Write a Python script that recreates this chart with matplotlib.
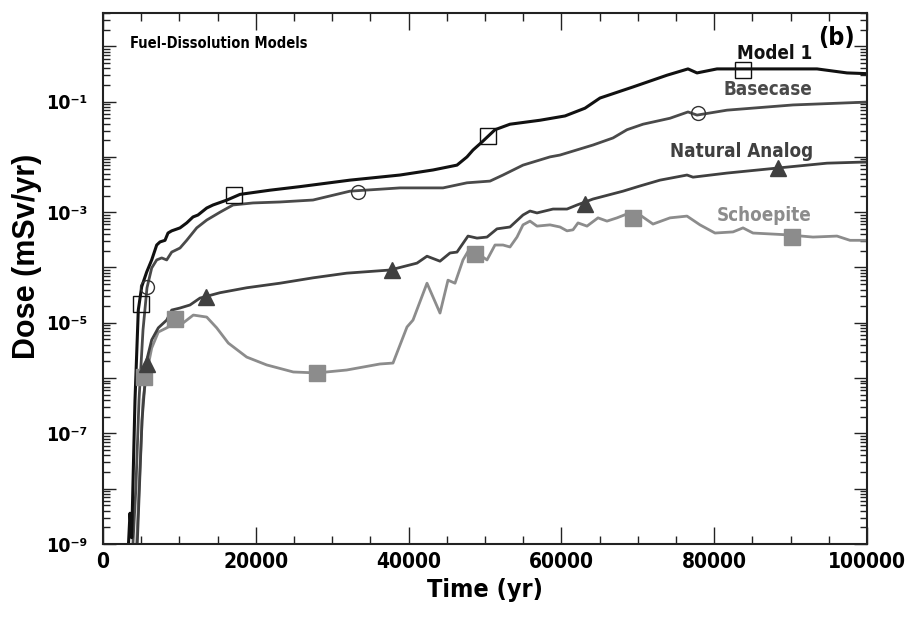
import numpy as np
import matplotlib
matplotlib.use('Agg')
import matplotlib.pyplot as plt
from matplotlib import font_manager
from matplotlib.ticker import LogLocator, FuncFormatter, MultipleLocator, NullFormatter

# the text in the original is condensed - use DejaVu Sans condensed bold if it is installed,
# otherwise plain Liberation Sans at smaller sizes so the widths still match
cond = [f for f in font_manager.fontManager.ttflist
        if f.name == 'DejaVu Sans' and f.stretch == 'condensed' and f.weight in ('bold', 700)]
if cond:
    narrow = 'DejaVu Sans'
    stretch = 'condensed'
    k = 1.0
else:
    narrow = 'Liberation Sans'
    stretch = 'normal'
    k = 1.05
plt.rcParams['font.family'] = narrow
plt.rcParams['font.stretch'] = stretch
plt.rcParams['font.weight'] = 'bold'

# Model 1
m1_t = [3230, 3534, 3757, 3966, 4188, 4620, 5065, 5720, 6374, 7029, 7461, 8115, 8508, 8992, 10079,
        10955, 11780, 12435, 13573, 14398, 16230, 17932, 21859, 25785, 32330, 38874, 43194, 46335,
        47644, 48429, 49607, 51309, 53272, 57199, 60471, 63089, 65052, 69372, 73822, 76571, 77749,
        80367, 83770, 93455, 97382, 100000]
m1_d = [5e-10, 3.6e-9, 1.3e-9, 2.2e-8, 4e-7, 1.7e-5, 4.5e-5, 8.3e-5, 1.37e-4, 2.55e-4, 2.9e-4, 3.1e-4,
        4.2e-4, 4.6e-4, 5.2e-4, 6.4e-4, 8.2e-4, 8.9e-4, 1.19e-3, 1.35e-3, 1.66e-3, 2.1e-3, 2.5e-3,
        2.9e-3, 3.8e-3, 4.7e-3, 5.8e-3, 7.1e-3, 1e-2, 1.33e-2, 1.86e-2, 3.1e-2, 3.9e-2, 4.6e-2,
        5.5e-2, 7.6e-2, 0.116, 0.184, 0.30, 0.39, 0.33, 0.39, 0.39, 0.39, 0.33, 0.32]
m1_mt = [4974, 17147, 50393, 83770]
m1_md = [2.2e-5, 2.05e-3, 2.4e-2, 0.37]

# Basecase
bc_t = [3800, 4300, 4712, 5236, 5759, 6374, 7029, 7683, 8338, 8992, 10079, 10955, 12264, 13573, 15314,
        17016, 19634, 23168, 27487, 32330, 38874, 44503, 47644, 50654, 52356, 54974, 58508, 59817,
        64136, 66754, 68586, 70681, 74215, 76571, 77749, 81676, 90314, 100000]
bc_d = [5e-10, 1e-8, 4e-7, 7.4e-6, 4.3e-5, 9.8e-5, 1.37e-4, 1.49e-4, 1.37e-4, 1.9e-4, 2.25e-4, 3.1e-4,
        5.2e-4, 7.2e-4, 1e-3, 1.35e-3, 1.47e-3, 1.53e-3, 1.66e-3, 2.4e-3, 2.75e-3, 2.75e-3, 3.4e-3,
        3.65e-3, 4.7e-3, 7.1e-3, 1e-2, 1.08e-2, 1.64e-2, 2.2e-2, 3.1e-2, 3.9e-2, 5e-2, 6.5e-2, 5.7e-2,
        7e-2, 8.7e-2, 0.098]
bc_mt = [5759, 33377, 77880]
bc_md = [4.5e-5, 2.3e-3, 6.2e-2]

# Natural Analog
na_t = [4400, 5105, 5720, 6374, 7238, 8338, 8992, 10079, 11387, 12696, 15314, 18809, 23168, 27487,
        31898, 37565, 41099, 42408, 44110, 45419, 46335, 47775, 48953, 50262, 51571, 53272, 54974,
        55890, 56806, 58901, 60733, 62042, 64136, 68063, 70288, 72906, 76440, 77225, 81676, 88351,
        94765, 100000]
na_d = [5e-10, 1.7e-7, 2.1e-6, 4.9e-6, 8.1e-6, 1.12e-5, 1.7e-5, 1.85e-5, 2.1e-5, 2.8e-5, 3.5e-5,
        4.3e-5, 5.2e-5, 6.5e-5, 7.9e-5, 9e-5, 1.2e-4, 1.6e-4, 1.3e-4, 1.83e-4, 1.9e-4, 3.7e-4, 3.4e-4,
        3.55e-4, 5e-4, 5.4e-4, 8.9e-4, 1.05e-3, 9.7e-4, 1.14e-3, 1.14e-3, 1.35e-3, 1.73e-3, 2.4e-3,
        2.98e-3, 3.8e-3, 4.7e-3, 4.3e-3, 5.1e-3, 6.3e-3, 7.7e-3, 8.1e-3]
na_mt = [5759, 13482, 37827, 63089, 88351]
na_md = [1.8e-6, 2.9e-5, 9e-5, 1.41e-3, 6.3e-3]

# Schoepite
sc_t = [4300, 5236, 5720, 6374, 7238, 8338, 9424, 10511, 11820, 13573, 14882, 16401, 18809, 21427,
        24909, 27972, 31898, 36257, 37958, 39791, 40576, 42408, 44110, 45157, 46073, 47120, 48037,
        50262, 51309, 52356, 53272, 54188, 54974, 55890, 56806, 58508, 59817, 60733, 61518, 62173,
        63351, 64791, 65969, 67278, 68586, 70288, 71990, 74215, 76440, 78141, 80105, 82461, 83770,
        85079, 89529, 92932, 96073, 97775, 100000]
sc_d = [5e-10, 4e-7, 1.24e-6, 3.5e-6, 6.8e-6, 8.1e-6, 1e-5, 1e-5, 1.38e-5, 1.27e-5, 8.1e-6, 4.3e-6,
        2.4e-6, 1.73e-6, 1.29e-6, 1.24e-6, 1.4e-6, 1.8e-6, 1.87e-6, 8.4e-6, 1.12e-5, 5.2e-5, 1.5e-5,
        5.9e-5, 5.2e-5, 1.37e-4, 2.25e-4, 1.37e-4, 2.55e-4, 2.55e-4, 2.35e-4, 3.55e-4, 5.9e-4, 6.9e-4,
        5.6e-4, 5.9e-4, 5.4e-4, 4.6e-4, 4.8e-4, 6.4e-4, 5.6e-4, 7.9e-4, 6.9e-4, 7.9e-4, 9.3e-4,
        8.9e-4, 6.1e-4, 7.9e-4, 8.5e-4, 5.9e-4, 4.2e-4, 4.4e-4, 5.2e-4, 4.2e-4, 3.9e-4, 3.55e-4,
        3.7e-4, 3.1e-4, 3.1e-4]
sc_mt = [5366, 9424, 28010, 48691, 69372, 90183]
sc_md = [1.05e-6, 1.17e-5, 1.24e-6, 1.75e-4, 7.9e-4, 3.55e-4]

fig = plt.figure(figsize=(9.08, 6.19), dpi=100)
ax = fig.add_axes([103/908, 75/619, 764/908, 531/619])

# lines
ax.plot(sc_t, sc_d, color='#8c8c8c', lw=2.0)
ax.plot(na_t, na_d, color='#404040', lw=2.0)
ax.plot(bc_t, bc_d, color='#4a4a4a', lw=2.0)
ax.plot(m1_t, m1_d, color='#111111', lw=2.2)

# markers
ax.plot(sc_mt, sc_md, 's', color='#8c8c8c', ms=11, ls='none')
ax.plot(na_mt, na_md, '^', color='#404040', ms=11, ls='none')
ax.plot(bc_mt, bc_md, 'o', mfc='none', mec='#333333', mew=1.0, ms=10, ls='none')
ax.plot(m1_mt, m1_md, 's', mfc='none', mec='#111111', mew=1.0, ms=11, ls='none')

ax.set_yscale('log')
ax.set_xlim(0, 100000)
ax.set_ylim(1e-9, 4)

ax.xaxis.set_major_locator(MultipleLocator(20000))
ax.xaxis.set_minor_locator(MultipleLocator(5000))
ax.yaxis.set_major_locator(LogLocator(base=10, numticks=30))
ax.yaxis.set_minor_locator(LogLocator(base=10, subs=np.arange(2, 10), numticks=30))
ax.yaxis.set_minor_formatter(NullFormatter())

sup = str.maketrans('-0123456789', '⁻⁰¹²³⁴⁵⁶⁷⁸⁹')


def ylab(v, pos):
    e = int(round(np.log10(v)))
    if e % 2 == 0:
        return ''
    return '10' + str(e).translate(sup)


ax.yaxis.set_major_formatter(FuncFormatter(ylab))

ax.tick_params(which='both', direction='in', top=True, right=True, width=1.0, color='#222222')
ax.tick_params(axis='x', which='major', length=12, labelsize=15 * k, pad=6)
ax.tick_params(axis='x', which='minor', length=6)
ax.tick_params(axis='y', which='major', length=9.5, labelsize=14 * k, pad=11)
ax.tick_params(axis='y', which='minor', length=5)
for s in ax.spines.values():
    s.set_linewidth(1.5)
    s.set_color('#222222')

ax.set_xlabel('Time (yr)', fontsize=18 * k, fontweight='bold', labelpad=4)
fig.text(27/908, 1 - 256/619, 'Dose (mSv/yr)', rotation=90, fontsize=22, fontweight='bold',
         family='Liberation Sans', stretch='normal', ha='center', va='center')

ax.text(0.035, 0.943, 'Fuel-Dissolution Models', transform=ax.transAxes, fontsize=10.5 * k,
        fontweight='bold', ha='left', va='center')
ax.text(0.984, 0.953, '(b)', transform=ax.transAxes, fontsize=18 * k, fontweight='bold',
        ha='right', va='center')
ax.text(0.928, 0.923, 'Model 1', transform=ax.transAxes, fontsize=13.5 * k, fontweight='bold',
        color='#111111', ha='right', va='center')
ax.text(0.928, 0.855, 'Basecase', transform=ax.transAxes, fontsize=13.5 * k, fontweight='bold',
        color='#4a4a4a', ha='right', va='center')
ax.text(0.929, 0.740, 'Natural Analog', transform=ax.transAxes, fontsize=13.5 * k, fontweight='bold',
        color='#404040', ha='right', va='center')
ax.text(0.927, 0.618, 'Schoepite', transform=ax.transAxes, fontsize=13.5 * k, fontweight='bold',
        color='#8c8c8c', ha='right', va='center')

fig.savefig('out.png', dpi=100)
